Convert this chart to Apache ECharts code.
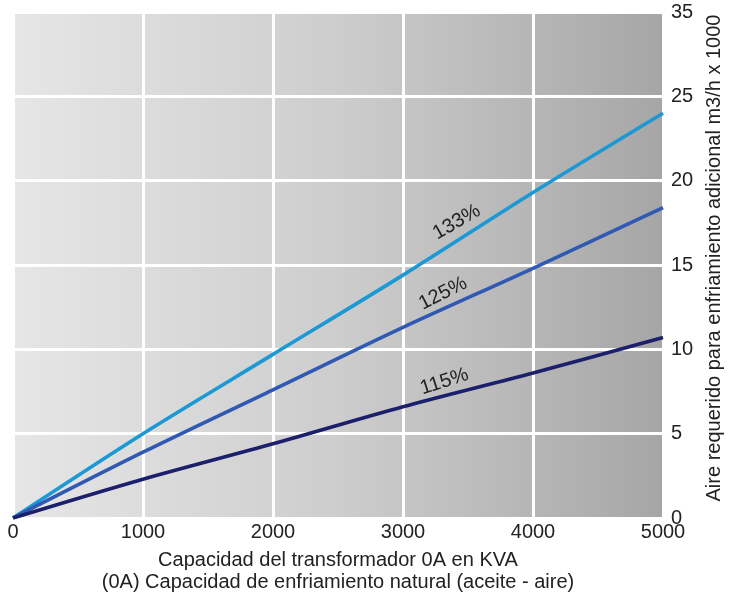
<!DOCTYPE html>
<html>
<head>
<meta charset="utf-8">
<script src="https://cdn.jsdelivr.net/npm/echarts@6/dist/echarts.min.js"></script>
<style>html,body{margin:0;padding:0;background:#fff;}#c{width:736px;height:598px;}</style>
</head>
<body>
<div id="c"></div>
<script>
var xValues = [0, 1000, 2000, 3000, 4000, 5000];
var s133 = [0, 5.0, 9.7, 14.4, 19.3, 24.0];
var s125 = [0, 3.9, 7.6, 11.3, 14.8, 18.4];
var s115 = [0, 2.3, 4.4, 6.6, 8.6, 10.7];
var yTickLabels = ['0', '5', '10', '15', '20', '25', '35'];
var xName = 'Capacidad del transformador 0A en KVA\n(0A) Capacidad de enfriamiento natural (aceite - aire)';
var yName = 'Aire requerido para enfriamiento adicional m3/h x 1000';

var FONT = 'Liberation Sans, Arial, Helvetica, sans-serif';

function mk(name, vals, color, labelIdx, rot, off) {
  return {
    name: name,
    type: 'line',
    smooth: 0.3,
    symbol: 'circle',
    symbolSize: 0,
    showSymbol: true,
    lineStyle: { color: color, width: 3.6 },
    itemStyle: { color: color },
    data: vals.map(function (v, i) {
      var d = { value: [xValues[i], v] };
      if (i === labelIdx) {
        d.label = {
          show: true, formatter: name, position: 'inside', rotate: rot, offset: off,
          color: '#222', fontSize: 20, fontFamily: FONT
        };
      }
      return d;
    }),
    z: 3
  };
}

var chart = echarts.init(document.getElementById('c'), null, { renderer: 'canvas' });
chart.setOption({
  animation: false,
  backgroundColor: '#ffffff',
  grid: {
    left: 13, right: 73, top: 12, bottom: 80, containLabel: false,
    show: true, borderWidth: 0,
    backgroundColor: new echarts.graphic.LinearGradient(0, 0, 1, 0, [
      { offset: 0, color: '#e6e6e6' },
      { offset: 0.5, color: '#cdcdcd' },
      { offset: 1, color: '#a6a6a6' }
    ])
  },
  xAxis: {
    type: 'value', min: 0, max: 5000, interval: 1000,
    name: xName, nameLocation: 'middle', nameGap: 31,
    nameTextStyle: { color: '#222', fontSize: 20, fontFamily: FONT, lineHeight: 22 },
    axisLine: { show: false }, axisTick: { show: false },
    axisLabel: { color: '#222', fontSize: 20, fontFamily: FONT, margin: 4, formatter: function (v) { return String(v); } },
    splitLine: { show: true, lineStyle: { color: '#ffffff', width: 3 } }
  },
  yAxis: {
    type: 'value', position: 'right', min: 0, max: 30, interval: 5,
    name: yName, nameLocation: 'middle', nameGap: 34, nameRotate: 90,
    nameTextStyle: { color: '#222', fontSize: 20, fontFamily: FONT, padding: [0, 0, 0, 14] },
    axisLine: { show: false }, axisTick: { show: false },
    axisLabel: {
      color: '#222', fontSize: 20, fontFamily: FONT, margin: 8,
      formatter: function (v) { return yTickLabels[Math.round(v / 5)]; }
    },
    splitLine: { show: true, lineStyle: { color: '#ffffff', width: 3 } }
  },
  series: [
    mk('133%', s133, '#1c98d4', 3, 30, [73, -19]),
    mk('125%', s125, '#3059b4', 3, 27, [51, -12]),
    mk('115%', s115, '#1b1f6c', 3, 18, [47, -11])
  ]
});
</script>
</body>
</html>
